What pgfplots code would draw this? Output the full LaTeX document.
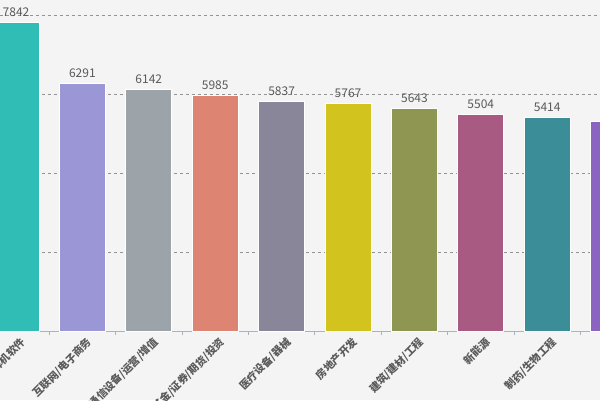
\documentclass[border=0pt]{standalone}
\usepackage{pgfplots}
\pgfplotsset{compat=1.18}
\usepackage{fontspec}
\setmainfont{Noto Sans CJK SC}
\newfontfamily\cjk{Noto Sans CJK SC}
\definecolor{bg}{HTML}{F4F4F4}
\definecolor{c1}{HTML}{2FBDB6}
\definecolor{c2}{HTML}{9B97D6}
\definecolor{c3}{HTML}{9CA3A9}
\definecolor{c4}{HTML}{DD8472}
\definecolor{c5}{HTML}{888698}
\definecolor{c6}{HTML}{D2C31F}
\definecolor{c7}{HTML}{8F9651}
\definecolor{c8}{HTML}{A95A82}
\definecolor{c9}{HTML}{3B8E98}
\definecolor{c10}{HTML}{8B63C1}
\definecolor{txt}{HTML}{5A5A5A}
\definecolor{axc}{HTML}{A9B4C0}
\begin{document}
\begin{tikzpicture}
\path[use as bounding box] (0,0) rectangle (600pt,400pt);
\fill[bg] (0,0) rectangle (600pt,400pt);
\clip (0,0) rectangle (600pt,400pt);
\begin{axis}[
  at={(0pt,69pt)}, anchor=south west,
  scale only axis, width=600pt, height=331pt,
  xmin=-0.241, xmax=8.795, ymin=0, ymax=8400,
  axis y line*=left, y axis line style={draw=none},
  axis x line*=bottom,
  x axis line style={draw=axc, line width=0.8pt},
  ybar, bar width=0.693, bar shift=0pt,
  ytick={2000,4000,6000,8000}, yticklabels={},
  ymajorgrids, grid style={draw=gray!85, dash pattern=on 3pt off 3pt, line width=0.6pt},
  xtick={0,...,9},
  xticklabels={计算机软件,互联网/电子商务,通信设备/运营/增值,基金/证券/期货/投资,医疗设备/器械,房地产开发,建筑/建材/工程,新能源,制药/生物工程,教育/培训/院校},
  major tick length=0pt,
  x tick label style={rotate=45, anchor=north east, font=\fontsize{10.5}{12}\selectfont\bfseries, text=txt, yshift=-3pt, xshift=2pt},
  extra x ticks={-0.5,0.5,1.5,2.5,3.5,4.5,5.5,6.5,7.5,8.5},
  extra x tick labels={},
  extra x tick style={major tick length=4pt, tick align=outside, tick style={draw=axc, line width=0.8pt}, grid=none},
  nodes near coords,
  /pgf/number format/assume math mode=true,
  /pgf/number format/1000 sep={},
  every node near coord/.append style={font=\fontsize{12}{14}\selectfont, text=txt, yshift=2pt},
  clip=false,
]
\addplot[fill=c1, draw=white, line width=0.8pt] coordinates {(0,7842)};
\addplot[fill=c2, draw=white, line width=0.8pt] coordinates {(1,6291)};
\addplot[fill=c3, draw=white, line width=0.8pt] coordinates {(2,6142)};
\addplot[fill=c4, draw=white, line width=0.8pt] coordinates {(3,5985)};
\addplot[fill=c5, draw=white, line width=0.8pt] coordinates {(4,5837)};
\addplot[fill=c6, draw=white, line width=0.8pt] coordinates {(5,5767)};
\addplot[fill=c7, draw=white, line width=0.8pt] coordinates {(6,5643)};
\addplot[fill=c8, draw=white, line width=0.8pt] coordinates {(7,5504)};
\addplot[fill=c9, draw=white, line width=0.8pt] coordinates {(8,5414)};
\addplot[fill=c10, draw=white, line width=0.8pt] coordinates {(9,5326)};
\end{axis}
\end{tikzpicture}
\end{document}
